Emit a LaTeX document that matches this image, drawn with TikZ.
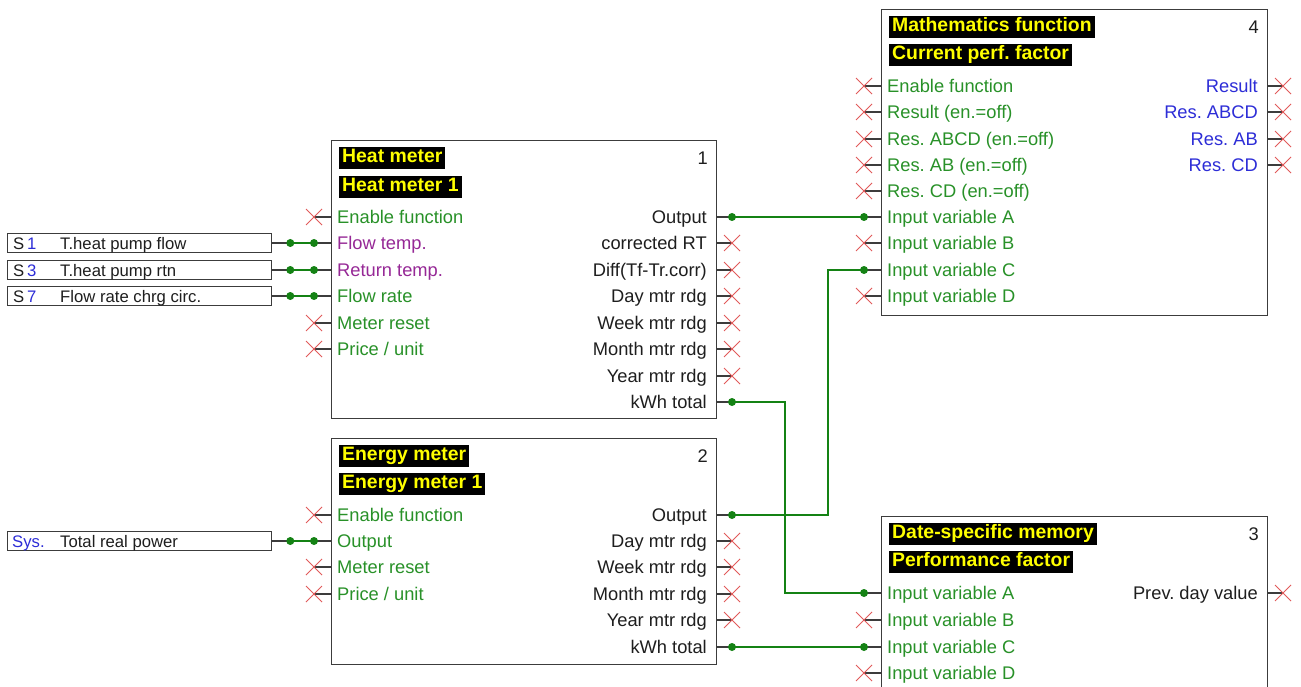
\documentclass[tikz,border=0pt]{standalone}
\usepackage{fontspec}
\setmainfont{Liberation Sans}
\usetikzlibrary{calc}
\frenchspacing
\definecolor{pgreen}{RGB}{40,145,40}
\definecolor{ppurple}{RGB}{150,40,150}
\definecolor{pblue}{RGB}{45,45,215}
\definecolor{pred}{RGB}{225,90,90}
\definecolor{pline}{RGB}{60,60,60}
\definecolor{ptext}{RGB}{30,30,30}
\definecolor{pyellow}{RGB}{255,255,0}
\definecolor{wgreen}{RGB}{20,130,20}
\tikzset{
  block/.style={draw=pline, line width=1.3pt, fill=white, inner sep=0pt, anchor=north west},
  lbl/.style={inner sep=0pt, font=\frenchspacing\fontsize{18.3}{21}\selectfont},
  ttl/.style={fill=black, text=pyellow, font=\frenchspacing\bfseries\fontsize{19.4}{22}\selectfont, inner xsep=3pt, inner ysep=2pt, text height=13.5pt, text depth=4pt, anchor=west},
  stub/.style={draw=pline, line width=1.3pt},
  wire/.style={draw=wgreen, line width=1.3pt},
  crossc/.style={draw=pred, line width=1pt},
  srcbox/.style={draw=pline, line width=1.3pt, minimum width=264pt, minimum height=19pt, inner sep=0pt, anchor=west},
  srctxt/.style={inner sep=0pt, text=ptext, font=\frenchspacing\fontsize{16.7}{19}\selectfont, anchor=base west},
  xmark/.pic={\draw[crossc] (-8,-8) -- (8,8) (-8,8) -- (8,-8);}
}
\newcommand\inpin[5]{%
  \node[lbl,text=#4,anchor=base west] (#1) at (#2+6,#3+6.5) {#5};
  \coordinate (#1e) at (#2,#3);
  \coordinate (#1p) at (#2-17,#3);
  \draw[stub] (#1e) -- (#1p);}
\newcommand\outpin[5]{%
  \node[lbl,text=#4,anchor=base east] (#1) at (#2-9,#3+6.5) {#5};
  \coordinate (#1e) at (#2,#3);
  \coordinate (#1p) at (#2+16,#3);
  \draw[stub] (#1e) -- (#1p);}
\newcommand\nc[1]{\pic at (#1p) {xmark};}
\newcommand\dotat[1]{\fill[wgreen] (#1) circle (4);}
\begin{document}
\begin{tikzpicture}[x=1pt,y=-1pt]
\useasboundingbox (0,0) rectangle (1301,687);
\clip (0,0) rectangle (1301,687);
\fill[white] (0,0) rectangle (1301,687);

% ---- Block 1: Heat meter
\node[block, minimum width=385pt, minimum height=278pt] (b1) at (331,140) {};
\node[ttl] (b1t1) at (339,158) {Heat meter};
\node[ttl] (b1t2) at (339,187) {Heat meter 1};
\node[lbl,text=ptext,anchor=base east] (b1n) at (708,164.5) {1};
\inpin{b1en}{331}{217}{pgreen}{Enable function}
\inpin{b1ft}{331}{243}{ppurple}{Flow temp.}
\inpin{b1rt}{331}{270}{ppurple}{Return temp.}
\inpin{b1fr}{331}{296}{pgreen}{Flow rate}
\inpin{b1mr}{331}{323}{pgreen}{Meter reset}
\inpin{b1pu}{331}{349}{pgreen}{Price / unit}
\nc{b1en}\nc{b1mr}\nc{b1pu}
\outpin{b1out}{716}{217}{ptext}{Output}
\outpin{b1crt}{716}{243}{ptext}{corrected RT}
\outpin{b1dif}{716}{270}{ptext}{Diff(Tf-Tr.corr)}
\outpin{b1day}{716}{296}{ptext}{Day mtr rdg}
\outpin{b1wk}{716}{323}{ptext}{Week mtr rdg}
\outpin{b1mo}{716}{349}{ptext}{Month mtr rdg}
\outpin{b1yr}{716}{376}{ptext}{Year mtr rdg}
\outpin{b1kwh}{716}{402}{ptext}{kWh total}
\nc{b1crt}\nc{b1dif}\nc{b1day}\nc{b1wk}\nc{b1mo}\nc{b1yr}

% ---- Block 2: Energy meter
\node[block, minimum width=385pt, minimum height=226pt] (b2) at (331,438) {};
\node[ttl] (b2t1) at (339,456) {Energy meter};
\node[ttl] (b2t2) at (339,484) {Energy meter 1};
\node[lbl,text=ptext,anchor=base east] (b2n) at (708,462.5) {2};
\inpin{b2en}{331}{515}{pgreen}{Enable function}
\inpin{b2in}{331}{541}{pgreen}{Output}
\inpin{b2mr}{331}{567}{pgreen}{Meter reset}
\inpin{b2pu}{331}{594}{pgreen}{Price / unit}
\nc{b2en}\nc{b2mr}\nc{b2pu}
\outpin{b2out}{716}{515}{ptext}{Output}
\outpin{b2day}{716}{541}{ptext}{Day mtr rdg}
\outpin{b2wk}{716}{567}{ptext}{Week mtr rdg}
\outpin{b2mo}{716}{594}{ptext}{Month mtr rdg}
\outpin{b2yr}{716}{620}{ptext}{Year mtr rdg}
\outpin{b2kwh}{716}{647}{ptext}{kWh total}
\nc{b2day}\nc{b2wk}\nc{b2mo}\nc{b2yr}

% ---- Block 4: Mathematics function
\node[block, minimum width=386pt, minimum height=306pt] (b4) at (881,9) {};
\node[ttl] (b4t1) at (889,27) {Mathematics function};
\node[ttl] (b4t2) at (889,55) {Current perf. factor};
\node[lbl,text=ptext,anchor=base east] (b4n) at (1259,33.5) {4};
\inpin{b4en}{881}{86}{pgreen}{Enable function}
\inpin{b4re}{881}{112}{pgreen}{Result (en.=off)}
\inpin{b4rabcd}{881}{139}{pgreen}{Res. ABCD (en.=off)}
\inpin{b4rab}{881}{165}{pgreen}{Res. AB (en.=off)}
\inpin{b4rcd}{881}{191}{pgreen}{Res. CD (en.=off)}
\inpin{b4ia}{881}{217}{pgreen}{Input variable A}
\inpin{b4ib}{881}{243}{pgreen}{Input variable B}
\inpin{b4ic}{881}{270}{pgreen}{Input variable C}
\inpin{b4id}{881}{296}{pgreen}{Input variable D}
\nc{b4en}\nc{b4re}\nc{b4rabcd}\nc{b4rab}\nc{b4rcd}\nc{b4ib}\nc{b4id}
\outpin{b4o1}{1267}{86}{pblue}{Result}
\outpin{b4o2}{1267}{112}{pblue}{Res. ABCD}
\outpin{b4o3}{1267}{139}{pblue}{Res. AB}
\outpin{b4o4}{1267}{165}{pblue}{Res. CD}
\nc{b4o1}\nc{b4o2}\nc{b4o3}\nc{b4o4}

% ---- Block 3: Date-specific memory
\node[block, minimum width=386pt, minimum height=200pt] (b3) at (881,516) {};
\node[ttl] (b3t1) at (889,534) {Date-specific memory};
\node[ttl] (b3t2) at (889,562) {Performance factor};
\node[lbl,text=ptext,anchor=base east] (b3n) at (1259,540.5) {3};
\inpin{b3ia}{881}{593}{pgreen}{Input variable A}
\inpin{b3ib}{881}{620}{pgreen}{Input variable B}
\inpin{b3ic}{881}{647}{pgreen}{Input variable C}
\inpin{b3id}{881}{673}{pgreen}{Input variable D}
\nc{b3ib}\nc{b3id}
\outpin{b3out}{1267}{593}{ptext}{Prev. day value}
\nc{b3out}

% ---- Sources
\node[srcbox] (s1) at (7,243) {};
\node[srctxt] (s1a) at (13,249) {S\,\textcolor{pblue}{1}};
\node[srctxt] (s1b) at (60,249) {T.heat pump flow};
\node[srcbox] (s2) at (7,270) {};
\node[srctxt] (s2a) at (13,276) {S\,\textcolor{pblue}{3}};
\node[srctxt] (s2b) at (60,276) {T.heat pump rtn};
\node[srcbox] (s3) at (7,296) {};
\node[srctxt] (s3a) at (13,302) {S\,\textcolor{pblue}{7}};
\node[srctxt] (s3b) at (60,302) {Flow rate chrg circ.};
\node[srcbox] (s4) at (7,541) {};
\node[srctxt] (s4a) at (12,547) {\textcolor{pblue}{Sys.}};
\node[srctxt] (s4b) at (60,547) {Total real power};

% ---- Wires
\foreach \s/\p in {s1/b1ft, s2/b1rt, s3/b1fr, s4/b2in}{
  \draw[stub] (\s.east) -- ($(\s.east)+(18,0)$);
  \draw[wire] ($(\s.east)+(18,0)$) -- (\p p);
  \dotat{$(\s.east)+(18,0)$}
  \dotat{\p p}
}
\draw[wire] (b1outp) -- (b4iap);
\draw[wire] (b2outp) -- ++(96,0) |- (b4icp);
\draw[wire] (b1kwhp) -- ++(53,0) |- (b3iap);
\draw[wire] (b2kwhp) -- (b3icp);
\foreach \p in {b1outp,b4iap,b2outp,b4icp,b1kwhp,b3iap,b2kwhp,b3icp}{\dotat{\p}}
\end{tikzpicture}
\end{document}
